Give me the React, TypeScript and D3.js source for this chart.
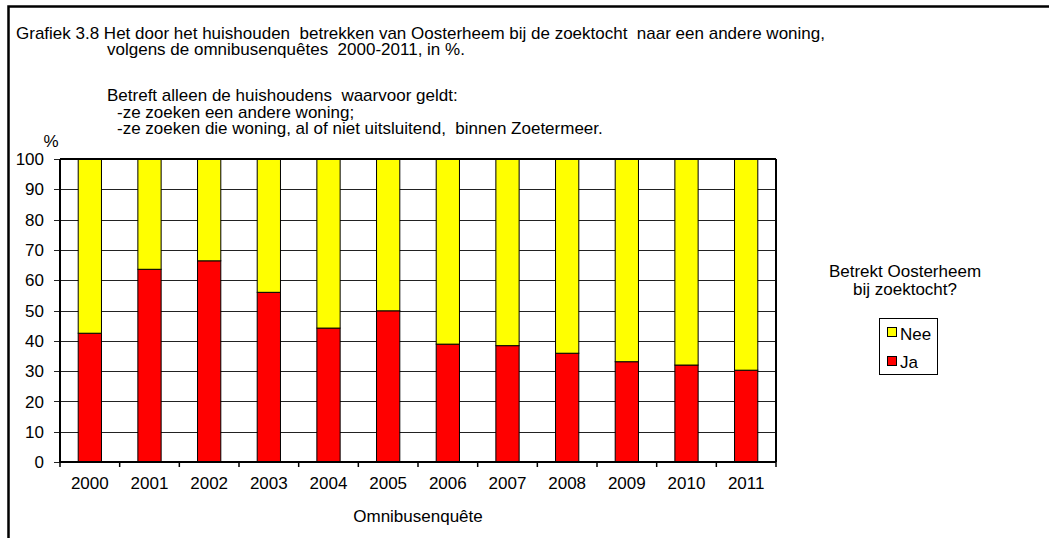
import React from "react";
import * as d3 from "d3";

const years = ["2000", "2001", "2002", "2003", "2004", "2005", "2006", "2007", "2008", "2009", "2010", "2011"];
const ja = [42.5, 63.6, 66.4, 56.0, 44.2, 49.9, 38.9, 38.4, 35.9, 33.1, 32.0, 30.3];
const nee = [57.5, 36.4, 33.6, 44.0, 55.8, 50.1, 61.1, 61.6, 64.1, 66.9, 68.0, 69.7];
const yTicks = [0, 10, 20, 30, 40, 50, 60, 70, 80, 90, 100];
const seriesKeys = ["Ja", "Nee"];
const seriesColors: Record<string, string> = { Ja: "#FF0000", Nee: "#FFFF00" };
const titleLines = [
  "Grafiek 3.8 Het door het huishouden  betrekken van Oosterheem bij de zoektocht  naar een andere woning,",
  "volgens de omnibusenquêtes  2000-2011, in %.",
  "Betreft alleen de huishoudens  waarvoor geldt:",
  "-ze zoeken een andere woning;",
  "-ze zoeken die woning, al of niet uitsluitend,  binnen Zoetermeer.",
];

const W = 1049;
const H = 538;
const FONT = "'Liberation Sans', Arial, sans-serif";

export default function App() {
  const left = 60, right = 776, top = 159, bottom = 462;
  const x = d3.scaleBand<string>().domain(years).range([left, right]).paddingInner(0.61).paddingOuter(0.305);
  const y = d3.scaleLinear().domain([0, 100]).range([bottom, top]);
  const table = years.map((yr, i) => ({ year: yr, Ja: ja[i], Nee: nee[i] }));
  const stacked = d3.stack<any>().keys(seriesKeys)(table);
  const step = x.step();
  const boundaries = d3.range(years.length + 1).map((i) => left + i * step);
  const tprops: any = { xmlSpace: "preserve" };

  return (
    <div style={{ position: "absolute", left: 0, top: 0 }}>
      <svg width={W} height={H} style={{ display: "block", fontFamily: FONT }}>
        <rect x={0} y={0} width={W} height={H} fill="#fff" />
        {/* outer frame */}
        <rect x={8.5} y={6.5} width={W + 20} height={H + 20} fill="none" stroke="#000" strokeWidth={2.5} />
        {/* title */}
        <g fontSize={17} fill="#000">
          <text {...tprops} x={16} y={39}>{titleLines[0]}</text>
          <text {...tprops} x={107} y={55}>{titleLines[1]}</text>
          <text {...tprops} x={107} y={101}>{titleLines[2]}</text>
          <text {...tprops} x={117} y={118}>{titleLines[3]}</text>
          <text {...tprops} x={117} y={134}>{titleLines[4]}</text>
        </g>
        <text x={51} y={147} fontSize={17} textAnchor="middle">%</text>
        {/* gridlines */}
        {yTicks.map((t) => (
          <line key={"g" + t} x1={left - 6} x2={right} y1={Math.round(y(t)) + 0.5} y2={Math.round(y(t)) + 0.5} stroke="#222" strokeWidth={1} />
        ))}
        {/* bars */}
        {stacked.map((s) => (
          <g key={s.key} fill={seriesColors[s.key]} stroke="#000" strokeWidth={1}>
            {s.map((d, i) => (
              <rect
                key={i}
                x={x(years[i])!}
                y={y(d[1])}
                width={x.bandwidth()}
                height={y(d[0]) - y(d[1])}
              />
            ))}
          </g>
        ))}
        {/* plot frame */}
        <line x1={left} x2={right} y1={top} y2={top} stroke="#000" strokeWidth={2} />
        <line x1={right} x2={right} y1={top} y2={bottom} stroke="#000" strokeWidth={2} />
        <line x1={left} x2={left} y1={top} y2={bottom} stroke="#000" strokeWidth={2} />
        <line x1={left} x2={right} y1={bottom} y2={bottom} stroke="#000" strokeWidth={2} />
        {/* x ticks */}
        {boundaries.map((b, i) => (
          <line key={"xt" + i} x1={b} x2={b} y1={bottom} y2={bottom + 5} stroke="#000" strokeWidth={1.5} />
        ))}
        {/* y labels */}
        {yTicks.map((t) => (
          <text key={"yl" + t} x={44} y={y(t)} dy="0.36em" fontSize={17} textAnchor="end">{t}</text>
        ))}
        {/* x labels */}
        {years.map((yr) => (
          <text key={"xl" + yr} x={x(yr)! + x.bandwidth() / 2} y={489} fontSize={17} textAnchor="middle">{yr}</text>
        ))}
        <text x={(left + right) / 2} y={522} fontSize={17} textAnchor="middle">Omnibusenquête</text>
        {/* legend */}
        <text x={905} y={277} fontSize={17} textAnchor="middle">Betrekt Oosterheem</text>
        <text x={905} y={295} fontSize={17} textAnchor="middle">bij zoektocht?</text>
        <rect x={879.5} y={318.5} width={58} height={56} fill="#fff" stroke="#000" strokeWidth={1} />
        <rect x={887.5} y={327.5} width={9} height={9} fill={seriesColors.Nee} stroke="#000" strokeWidth={1} />
        <text x={900} y={340} fontSize={17}>Nee</text>
        <rect x={887.5} y={356.5} width={9} height={9} fill={seriesColors.Ja} stroke="#000" strokeWidth={1} />
        <text x={900} y={368} fontSize={17}>Ja</text>
      </svg>
    </div>
  );
}
